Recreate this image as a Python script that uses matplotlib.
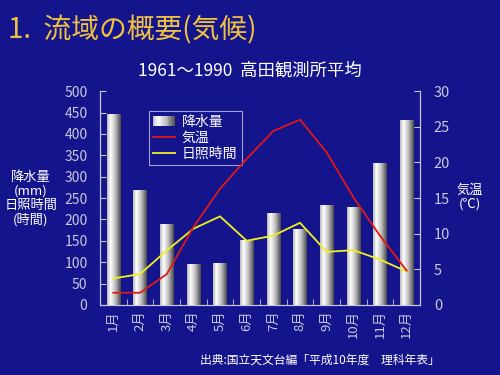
import numpy as np
import matplotlib.pyplot as plt
from matplotlib.colors import LinearSegmentedColormap
from matplotlib.patches import Rectangle
from matplotlib.legend_handler import HandlerBase

plt.rcParams['font.family'] = ['Noto Sans CJK JP', 'DejaVu Sans']

months = ['1月', '2月', '3月', '4月', '5月', '6月', '7月', '8月', '9月', '10月', '11月', '12月']
precip = [446, 269, 189, 96, 99, 151, 216, 178, 234, 229, 332, 433]      # mm
temp = [1.7, 1.7, 4.3, 10.9, 16.3, 20.5, 24.4, 26.0, 21.4, 15.1, 9.7, 4.8]  # deg C
sunshine = [62, 72, 127, 178, 207, 150, 162, 192, 124, 128, 106, 78]       # hours

bg = '#14148c'
fg = '#c8c8e0'

cmap = LinearSegmentedColormap.from_list('cyl', [(0, '#b8b8b8'), (0.25, '#ffffff'), (0.6, '#c0c0c0'), (1, '#4a4a4a')])


class GradHandler(HandlerBase):
    # legend key drawn as a shaded box like the bars
    def create_artists(self, legend, orig_handle, xdescent, ydescent, width, height, fontsize, trans):
        n = 16
        arts = []
        for i in range(n):
            r = Rectangle((-xdescent + i * width / n, -ydescent), width / n * 1.05, height,
                          facecolor=cmap((i + 0.5) / n), edgecolor='none', transform=trans)
            arts.append(r)
        return arts


fig = plt.figure(figsize=(5, 3.75), dpi=100, facecolor=bg)
ax = fig.add_axes([0.2, 0.187, 0.64, 0.57])
ax.set_facecolor(bg)
ax2 = ax.twinx()

x = np.arange(len(months))
bars = ax.bar(x, precip, width=0.49, color='#dddddd', zorder=2, label='降水量')

grad = np.linspace(0, 1, 64).reshape(1, -1)
for b in bars:
    bx, by = b.get_x(), b.get_y()
    w, h = b.get_width(), b.get_height()
    im = ax.imshow(grad, cmap=cmap, aspect='auto', extent=[bx, bx + w, by, by + h], zorder=3)
    im.set_clip_path(b)

line_t, = ax2.plot(x, temp, color='#e01818', lw=1.3, label='気温', zorder=4)
line_s, = ax.plot(x, sunshine, color='#f0f020', lw=1.3, label='日照時間', zorder=5)

ax.set_xlim(-0.455, 11.37)
ax.set_ylim(0, 500)
ax2.set_ylim(0, 30)
ax.set_yticks(np.arange(0, 501, 50))
ax2.set_yticks(np.arange(0, 31, 5))
ax.set_xticks(x)
ax.set_xticklabels(months, rotation=90)
ax.set_xticks(np.arange(-0.5, 12, 1), minor=True)

for a in (ax, ax2):
    for s in a.spines.values():
        s.set_color(fg)
        s.set_linewidth(0.8)
    a.spines['top'].set_visible(False)
ax.tick_params(axis='y', direction='in', colors=fg, labelsize=10, length=4, pad=9)
ax2.tick_params(axis='y', direction='in', colors=fg, labelsize=10.5, length=4, pad=10)
ax.tick_params(axis='x', which='major', length=0, colors=fg, labelsize=9.5, pad=4)
ax.tick_params(axis='x', which='minor', direction='in', length=4, color=fg)

leg = ax.legend([bars, line_t, line_s], ['降水量', '気温', '日照時間'],
                handler_map={bars: GradHandler()},
                loc='upper left', bbox_to_anchor=(0.13, 0.94), fontsize=10,
                frameon=True, fancybox=False, facecolor=bg, edgecolor=fg,
                labelcolor='white', handlelength=1.6, borderpad=0.3, labelspacing=0.15,
                handletextpad=0.5)
leg.get_frame().set_linewidth(0.8)
leg.set_zorder(10)

fig.text(0.016, 0.92, '1.  流域の概要(気候)', color='#f0c040', fontsize=20, va='center', ha='left')
fig.text(0.5, 0.813, '1961～1990  高田観測所平均', color='white', fontsize=12.5, ha='center', va='center')
fig.text(0.062, 0.47, '降水量\n(mm)\n日照時間\n(時間)', color='white', fontsize=9.5, ha='center',
         va='center', linespacing=1.1)
fig.text(0.94, 0.475, '気温\n(℃)', color='white', fontsize=9.5, ha='center', va='center', linespacing=1.1)
fig.text(0.64, 0.04, '出典:国立天文台編「平成10年度　理科年表」', color='white', fontsize=8.5,
         ha='center', va='center')

fig.savefig('out.png', dpi=100, facecolor=bg)
